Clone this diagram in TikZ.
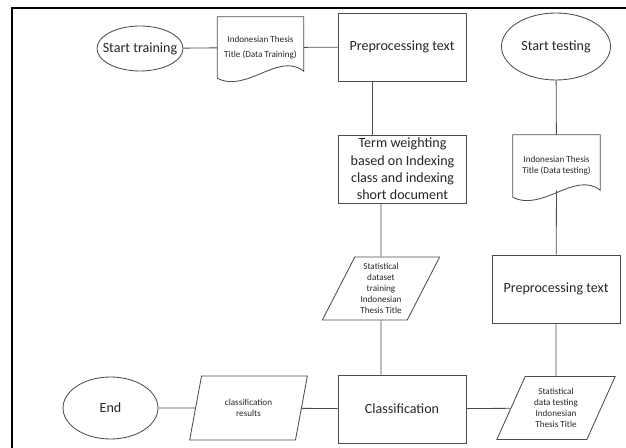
\documentclass[tikz,border=0pt]{standalone}
\usepackage{fontspec}
\setmainfont{Carlito}
\usepackage{tikz}
\usetikzlibrary{shapes,positioning,calc}

\newcommand{\bigtxt}{\fontsize{10}{12.3}\selectfont}
\newcommand{\smalltxt}{\fontsize{6.5}{7.8}\selectfont}
% wavy document outline around a named node
\newcommand{\docwave}[1]{%
  \draw[link] (#1.south west) -- (#1.north west) -- (#1.north east) -- ($(#1.south east)+(0,-7)$)
    .. controls ($(#1.south east)+(-25,-27)$) and ($(#1.south west)+(30,15)$) .. (#1.south west) -- cycle;}

\begin{document}
\begin{tikzpicture}[x=0.25mm, y=-0.25mm]
% Define styles
\tikzstyle{link} = [draw=black!70, line width=0.6pt]
\tikzstyle{terminal} = [ellipse, link, inner sep=0pt, text=black!85, font=\bigtxt]
\tikzstyle{procbox} = [rectangle, link, minimum width=32mm, minimum height=17mm, inner sep=0pt, align=center, text=black!85, font=\bigtxt]
\tikzstyle{iobox} = [trapezium, trapezium left angle=63, trapezium right angle=117, trapezium stretches=true, link, minimum width=29.5mm, minimum height=15.75mm, inner sep=0pt, align=center, text=black!85, font=\smalltxt]
\tikzstyle{docbox} = [rectangle, minimum width=21.5mm, minimum height=15.25mm, inner sep=0pt, align=center, text=black!85, font=\smalltxt]

\useasboundingbox (0,0) rectangle (626,448);

% Frame
\draw[line width=1.4pt] (12,448) -- (12,8) -- (626,8);

% Training branch
\node[terminal, minimum width=21.5mm, minimum height=11.25mm] (starttrain) at (140,48.5) {\makebox[0pt]{Start training}};
\node[docbox] (doctrain) at (260.5,47.5) {Indonesian Thesis\\[3pt]Title (Data Training)};
\docwave{doctrain}
\node[procbox] (prep1) at (402,47) {Preprocessing text};
\node[procbox] (term) at (402.5,169) {Term weighting\\based on Indexing\\class and indexing\\short document};
\node[iobox] (stattrain) at (381,288.5) {Statistical\\dataset\\training\\Indonesian\\Thesis Title};

% Testing branch
\node[terminal, minimum width=27.25mm, minimum height=16.75mm] (starttest) at (556,46.5) {\makebox[0pt]{Start testing}};
\node[docbox, minimum width=21.75mm, minimum height=15.5mm] (doctest) at (556.5,166) {Indonesian Thesis\\Title (Data testing)};
\docwave{doctest}
\node[procbox] (prep2) at (556,289) {Preprocessing text};
\node[iobox, minimum width=29.75mm] (stattest) at (556,408) {Statistical\\data testing\\Indonesian\\Thesis Title};

% Output
\node[procbox] (classif) at (402,409) {Classification};
\node[iobox, trapezium left angle=71, trapezium right angle=109, minimum height=16mm] (results) at (248.5,408) {classification\\results};
\node[terminal, minimum width=23.75mm, minimum height=15.5mm] (endnode) at (110.5,408) {\makebox[0pt]{End}};

% Connections
\draw[link] (starttrain) -- (doctrain);
\draw[link] (doctrain) -- (prep1);
\draw[link] ($(prep1.south)+(-30,0)$) -- ($(term.north)+(-30.5,0)$);
\draw[link] (term.south -| stattrain) -- (stattrain);
\draw[link] (stattrain) -- (classif.north -| stattrain);
\draw[link] (starttest) -- (doctest);
\draw[link] ($(doctest.south)+(0,-7)$) -- (prep2);
\draw[link] (prep2) -- (stattest);
\draw[link] (classif) -- (stattest);
\draw[link] (results) -- (classif);
\draw[link] (endnode) -- (results);

\end{tikzpicture}
\end{document}
